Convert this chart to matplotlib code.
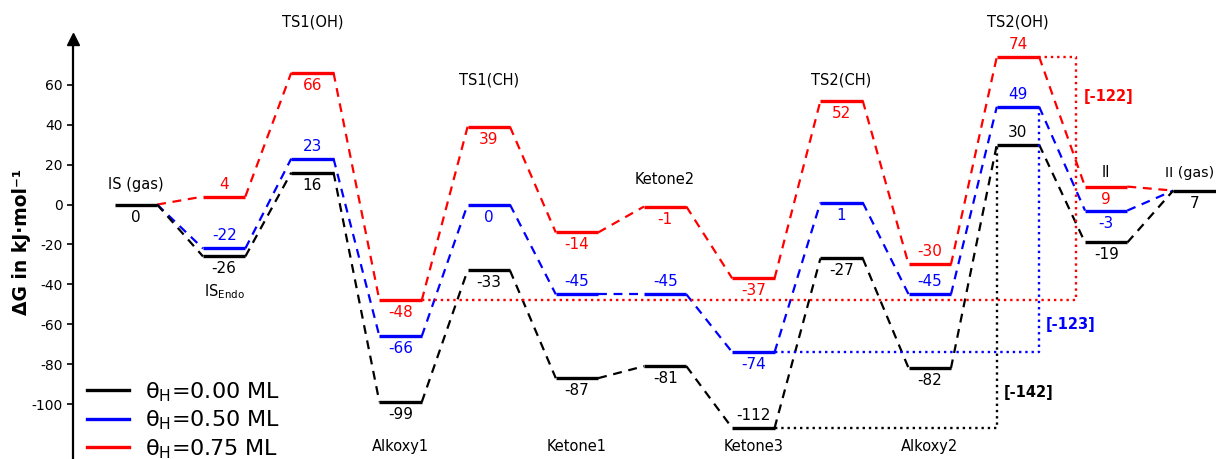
import numpy as np
import matplotlib.pyplot as plt
from matplotlib.lines import Line2D

plt.rcParams["axes.unicode_minus"] = False

STATES = ["IS (gas)", r"IS$_{\mathrm{Endo}}$", "TS1(OH)", "Alkoxy1", "TS1(CH)", "Ketone1",
          "Ketone2", "Ketone3", "TS2(CH)", "Alkoxy2", "TS2(OH)", "II", "II (gas)"]
NAME_Y = [10, -43.5, 91.5, -121, 62.5, -121, 12.5, -121, 62.5, -121, 91.5, 16, 16]

G_000 = [0, -26, 16, -99, -33, -87, -81, -112, -27, -82, 30, -19, 7]
G_050 = [0, -22, 23, -66, 0, -45, -45, -74, 1, -45, 49, -3, 7]
G_075 = [0, 4, 66, -48, 39, -14, -1, -37, 52, -30, 74, 9, 7]

# which value labels sit above their level
ABOVE = {"k": {7, 10}, "b": {1, 2, 5, 6, 9, 10}, "r": {1, 9, 10}}

# energetic span: (from state, to state, span value)
SPAN_000 = (7, 10, -142)
SPAN_050 = (7, 10, -123)
SPAN_075 = (3, 10, -122)

HW = 0.24
XL = (-0.714, 12.245)
COL = {"k": "black", "b": "#0000ff", "r": "#ff0000"}

fig = plt.figure(figsize=(12.16, 4.59), dpi=100)
ax = fig.add_axes([73 / 1216, 0, 1 - 73 / 1216, 1])
ax.set_xlim(*XL)
ax.set_ylim(-127.5, 102.5)

series = [("k", G_000, "0.00"), ("b", G_050, "0.50"), ("r", G_075, "0.75")]
for c, g, _ in reversed(series):
    col = COL[c]
    for i in range(len(g) - 1):
        ax.plot([i + HW, i + 1 - HW], [g[i], g[i + 1]], color=col, lw=1.6, dashes=(4, 3))
    for i, v in enumerate(g):
        if c != "k" and i in (0, 12):
            continue
        ax.plot([i - HW, i + HW], [v, v], color=col, lw=2.4, solid_capstyle="butt")
        if i in ABOVE[c]:
            ax.text(i, v + 2.5, str(v), color=col, ha="center", va="bottom", fontsize=11)
        else:
            ax.text(i, v - 2.5, str(v), color=col, ha="center", va="top", fontsize=11)

for i, (name, ny) in enumerate(zip(STATES, NAME_Y)):
    if i == len(STATES) - 1:
        # last label would run past the right edge
        ax.text(XL[1] - 0.02, ny, name, ha="right", va="center", fontsize=10.3)
    else:
        ax.text(i, ny, name, ha="center", va="center", fontsize=10.5)

# energetic spans (dotted)
i0, i1, sp = SPAN_075
xr = 10.66
ax.plot([i0 + HW, xr, xr, i1 + HW], [G_075[i0], G_075[i0], G_075[i1], G_075[i1]],
        color=COL["r"], ls=":", lw=1.7)
ax.text(xr + 0.08, 54, f"[{sp}]", color=COL["r"], fontweight="bold", fontsize=10.5, va="center")

i0, i1, sp = SPAN_050
ax.plot([i0 + HW, i1 + HW, i1 + HW], [G_050[i0], G_050[i0], G_050[i1]],
        color=COL["b"], ls=":", lw=1.7)
ax.text(i1 + HW + 0.08, -60, f"[{sp}]", color=COL["b"], fontweight="bold", fontsize=10.5, va="center")

i0, i1, sp = SPAN_000
ax.plot([i0 + HW, i1 - HW, i1 - HW], [G_000[i0], G_000[i0], G_000[i1]],
        color="black", ls=":", lw=1.7)
ax.text(i1 - HW + 0.08, -94, f"[{sp}]", color="black", fontweight="bold", fontsize=10.5, va="center")

# axis styling
for s in ("top", "right", "bottom"):
    ax.spines[s].set_visible(False)
ax.spines["left"].set_bounds(-127.5, 82)
ax.spines["left"].set_linewidth(1.6)
ax.plot(XL[0], 83, marker="^", ms=9, color="black", clip_on=False)
ax.set_xticks([])
ax.set_yticks(np.arange(-100, 61, 20))
ax.tick_params(axis="y", labelsize=10, length=4, width=1.2)
fig.text(22 / 1216, 1 - 242 / 459, "ΔG in kJ·mol⁻¹", rotation=90, ha="center", va="center",
         fontsize=13.5, fontweight="bold")

handles = [Line2D([], [], color=COL[c], lw=2.4) for c, _, _ in series]
labels = [rf"θ$_\mathrm{{H}}$={cov} ML" for _, _, cov in series]
fig.legend(handles, labels, loc="upper left", bbox_to_anchor=(87 / 1216, 1 - 380 / 459),
           frameon=False, fontsize=16, handlelength=1.9, handletextpad=0.7,
           labelspacing=0.22, borderpad=0, borderaxespad=0)

fig.savefig("out.png", dpi=100)
